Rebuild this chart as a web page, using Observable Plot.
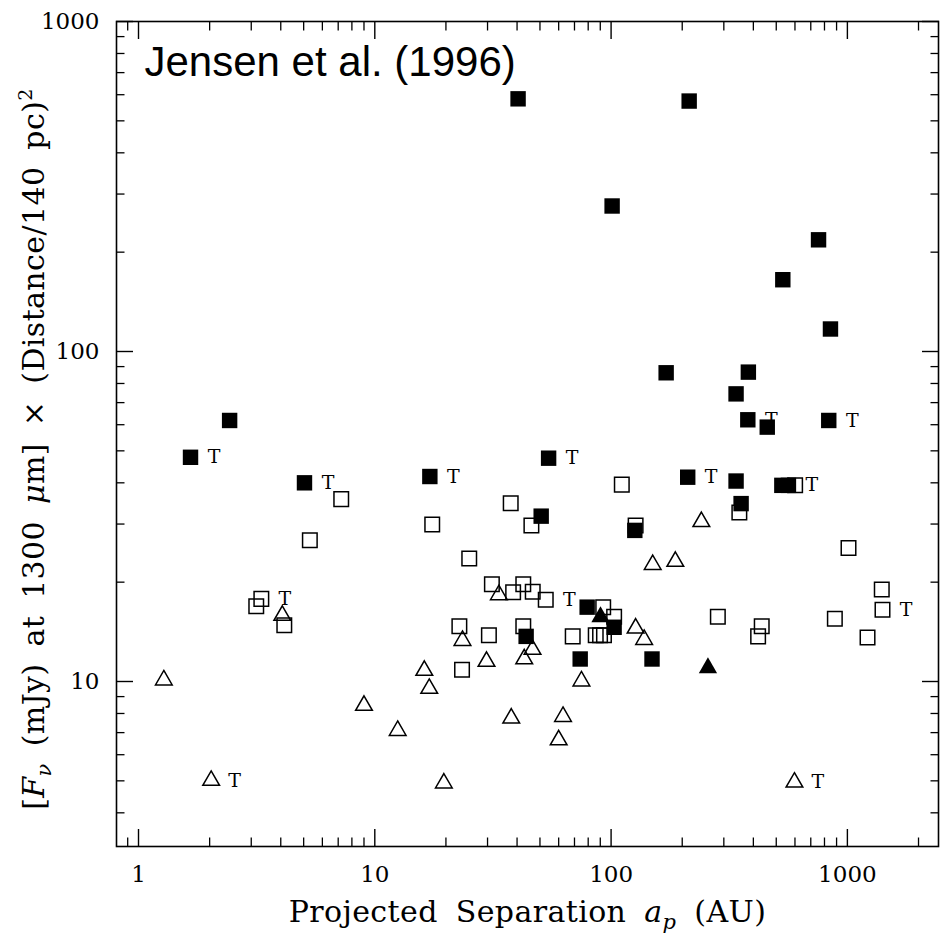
<!DOCTYPE html>
<html>
<head>
<meta charset="utf-8">
<script src="https://cdn.jsdelivr.net/npm/d3@7"></script>
<script src="https://cdn.jsdelivr.net/npm/@observablehq/plot@0.6"></script>
<style>
  body { margin: 0; background: #fff; }
  svg { display: block; }
</style>
</head>
<body>
<div id="chart"></div>
<script>
// 1300 µm flux (scaled to 140 pc) versus projected binary separation.
// "T" marks a note attached to individual systems.

const filledSquares = [
  {sep: 40.4, flux: 583}, {sep: 214, flux: 574}, {sep: 101, flux: 276},
  {sep: 755, flux: 218}, {sep: 533, flux: 165}, {sep: 848, flux: 117},
  {sep: 171, flux: 86.2}, {sep: 381, flux: 86.6}, {sep: 338, flux: 74.4},
  {sep: 379, flux: 62.1, note: "T"}, {sep: 458, flux: 59.0}, {sep: 834, flux: 61.8, note: "T"},
  {sep: 2.43, flux: 61.8}, {sep: 1.66, flux: 47.8, note: "T"}, {sep: 5.04, flux: 40.0, note: "T"},
  {sep: 17.1, flux: 41.8, note: "T"}, {sep: 54.4, flux: 47.5, note: "T"}, {sep: 211, flux: 41.6, note: "T"},
  {sep: 338, flux: 40.5}, {sep: 528, flux: 39.3}, {sep: 563, flux: 39.3, note: "T"},
  {sep: 355, flux: 34.6}, {sep: 50.6, flux: 31.7}, {sep: 126, flux: 28.7},
  {sep: 79.2, flux: 16.8}, {sep: 103, flux: 14.6}, {sep: 43.7, flux: 13.7},
  {sep: 74.0, flux: 11.7}, {sep: 149, flux: 11.7}
];

const filledTriangles = [
  {sep: 90.2, flux: 15.7}, {sep: 257, flux: 11.0}
];

const openSquares = [
  {sep: 111, flux: 39.5}, {sep: 601, flux: 39.3}, {sep: 7.21, flux: 35.7},
  {sep: 37.6, flux: 34.7}, {sep: 5.31, flux: 26.8}, {sep: 17.5, flux: 29.9},
  {sep: 46.0, flux: 29.7}, {sep: 127, flux: 29.7}, {sep: 349, flux: 32.5},
  {sep: 25.1, flux: 23.6}, {sep: 1011, flux: 25.4}, {sep: 1398, flux: 19.0},
  {sep: 1408, flux: 16.5, note: "T"}, {sep: 31.3, flux: 19.7}, {sep: 42.5, flux: 19.7},
  {sep: 38.5, flux: 18.65}, {sep: 46.6, flux: 18.7}, {sep: 52.9, flux: 17.7, note: "T"},
  {sep: 92.6, flux: 16.8}, {sep: 103, flux: 15.7}, {sep: 283, flux: 15.7},
  {sep: 3.15, flux: 16.9}, {sep: 3.31, flux: 17.8, note: "T"}, {sep: 4.14, flux: 14.8},
  {sep: 22.8, flux: 14.7}, {sep: 30.4, flux: 13.8}, {sep: 42.5, flux: 14.7},
  {sep: 68.8, flux: 13.7}, {sep: 86.1, flux: 13.8}, {sep: 89.8, flux: 13.8},
  {sep: 93.3, flux: 13.8}, {sep: 23.4, flux: 10.85}, {sep: 434, flux: 14.7},
  {sep: 419, flux: 13.7}, {sep: 885, flux: 15.5}, {sep: 1217, flux: 13.6}
];

const openTriangles = [
  {sep: 1.28, flux: 10.1}, {sep: 2.03, flux: 5.01, note: "T"}, {sep: 4.06, flux: 15.85},
  {sep: 9.00, flux: 8.46}, {sep: 12.5, flux: 7.10}, {sep: 16.2, flux: 10.8},
  {sep: 17.0, flux: 9.52}, {sep: 19.6, flux: 4.92}, {sep: 23.5, flux: 13.3},
  {sep: 29.7, flux: 11.5}, {sep: 33.5, flux: 18.3}, {sep: 37.8, flux: 7.74},
  {sep: 42.9, flux: 11.7}, {sep: 46.5, flux: 12.5}, {sep: 62.6, flux: 7.83},
  {sep: 60.0, flux: 6.65}, {sep: 74.9, flux: 10.03}, {sep: 127, flux: 14.5},
  {sep: 138, flux: 13.4}, {sep: 150, flux: 22.6}, {sep: 187, flux: 23.1},
  {sep: 241, flux: 30.5}, {sep: 597, flux: 4.95, note: "T"}
];

// tick values
const xMajorTicks = [1, 10, 100, 1000];
const xMinorTicks = [0.9, 2, 3, 4, 5, 6, 7, 8, 9, 20, 30, 40, 50, 60, 70, 80, 90,
                     200, 300, 400, 500, 600, 700, 800, 900, 2000];
const yMajorTicks = [10, 100, 1000];
const yMinorTicks = [4, 5, 6, 7, 8, 9, 20, 30, 40, 50, 60, 70, 80, 90,
                     200, 300, 400, 500, 600, 700, 800, 900];

const titleText = "Jensen et al. (1996)";
const xLabelText = "Projected Separation a p (AU)";
const yLabelText = "[F ν (mJy) at 1300 μm] × (Distance/140 pc)²";

const serif = "DejaVu Serif";
const tagged = [...filledSquares, ...openSquares, ...openTriangles].filter(d => d.note);

// inward tick marks on all four sides of the frame
const tickMarks = [
  ...["bottom", "top"].flatMap(anchor => [
    Plot.axisX({anchor, ticks: xMajorTicks, tickSize: -17, fill: "none", stroke: "black", strokeWidth: 1.4, label: null}),
    Plot.axisX({anchor, ticks: xMinorTicks, tickSize: -8.5, fill: "none", stroke: "black", strokeWidth: 1.3, label: null})
  ]),
  ...["left", "right"].flatMap(anchor => [
    Plot.axisY({anchor, ticks: yMajorTicks, tickSize: -17, fill: "none", stroke: "black", strokeWidth: 1.4, label: null}),
    Plot.axisY({anchor, ticks: yMinorTicks, tickSize: -8.5, fill: "none", stroke: "black", strokeWidth: 1.3, label: null})
  ])
];

const chart = Plot.plot({
  width: 941,
  height: 936,
  marginLeft: 116,
  marginRight: 3,
  marginTop: 21,
  marginBottom: 90,
  style: {background: "#fff", color: "black"},
  x: {type: "log", domain: [0.807, 2430]},
  y: {type: "log", domain: [Math.sqrt(10), 1000]},
  marks: [
    ...tickMarks,
    Plot.axisX({anchor: "bottom", ticks: xMajorTicks, tickSize: 0, tickPadding: 19,
                tickFormat: d3.format("d"), fontSize: 23, fontFamily: serif, fill: "black", label: null}),
    Plot.axisY({anchor: "left", ticks: yMajorTicks, tickSize: 0, tickPadding: 17,
                tickFormat: d3.format("d"), fontSize: 23, fontFamily: serif, fill: "black", label: null}),
    Plot.frame({stroke: "black", strokeWidth: 1.6}),

    Plot.dot(openTriangles, {x: "sep", y: "flux", symbol: "triangle", r: 6.2,
                             fill: "none", stroke: "black", strokeWidth: 1.5}),
    Plot.dot(openSquares, {x: "sep", y: "flux", symbol: "square", r: 8.2,
                           fill: "none", stroke: "black", strokeWidth: 1.5}),
    Plot.dot(filledTriangles, {x: "sep", y: "flux", symbol: "triangle", r: 6.8, fill: "black"}),
    Plot.dot(filledSquares, {x: "sep", y: "flux", symbol: "square", r: 8.7, fill: "black"}),

    Plot.text(tagged, {x: "sep", y: "flux", text: "note", dx: 23.5, lineAnchor: "middle",
                       fontSize: 19, fontFamily: serif, fill: "black"}),

    Plot.text([titleText], {frameAnchor: "top-left", dx: 28, dy: 54, lineAnchor: "bottom",
                            textAnchor: "start", fontSize: 42, fontFamily: "Liberation Sans",
                            fill: "black"}),
    Plot.text([xLabelText], {frameAnchor: "bottom", dy: 75.7, lineAnchor: "bottom",
                             textAnchor: "middle", fontSize: 30, fontFamily: serif, fill: "black"}),
    Plot.text([yLabelText], {frameAnchor: "left", dx: -72.7, dy: 15, rotate: -90, lineAnchor: "bottom",
                             textAnchor: "middle", fontSize: 30, fontFamily: serif, fill: "black"})
  ]
});

// rebuild axis labels with italics and sub/superscripts
function richText(el, parts, wordSpacing) {
  const t = d3.select(el);
  t.text(null);
  t.attr("word-spacing", wordSpacing).attr("letter-spacing", "0.4px");
  for (const p of parts) {
    const s = t.append("tspan").text(p.text);
    if (p.italic) s.attr("font-style", "italic");
    if (p.size) s.attr("font-size", p.size);
    if (p.dy) s.attr("dy", p.dy);
  }
}

function findText(content) {
  return Array.from(chart.querySelectorAll("text")).find(t => t.textContent === content);
}

const xl = findText(xLabelText);
if (xl) richText(xl, [
  {text: "Projected Separation "},
  {text: "a", italic: true},
  {text: "p", italic: true, size: 21, dy: 7},
  {text: " (AU)", dy: -7}
], "8px");

const yl = findText(yLabelText);
if (yl) richText(yl, [
  {text: "["},
  {text: "F", italic: true},
  {text: "ν", italic: true, size: 21, dy: 7},
  {text: " (mJy) at 1300 ", dy: -7},
  {text: "μ", italic: true},
  {text: "m] × (Distance/140 pc)"},
  {text: "2", size: 19, dy: -12}
], "7px");

document.getElementById("chart").appendChild(chart);
</script>
</body>
</html>
